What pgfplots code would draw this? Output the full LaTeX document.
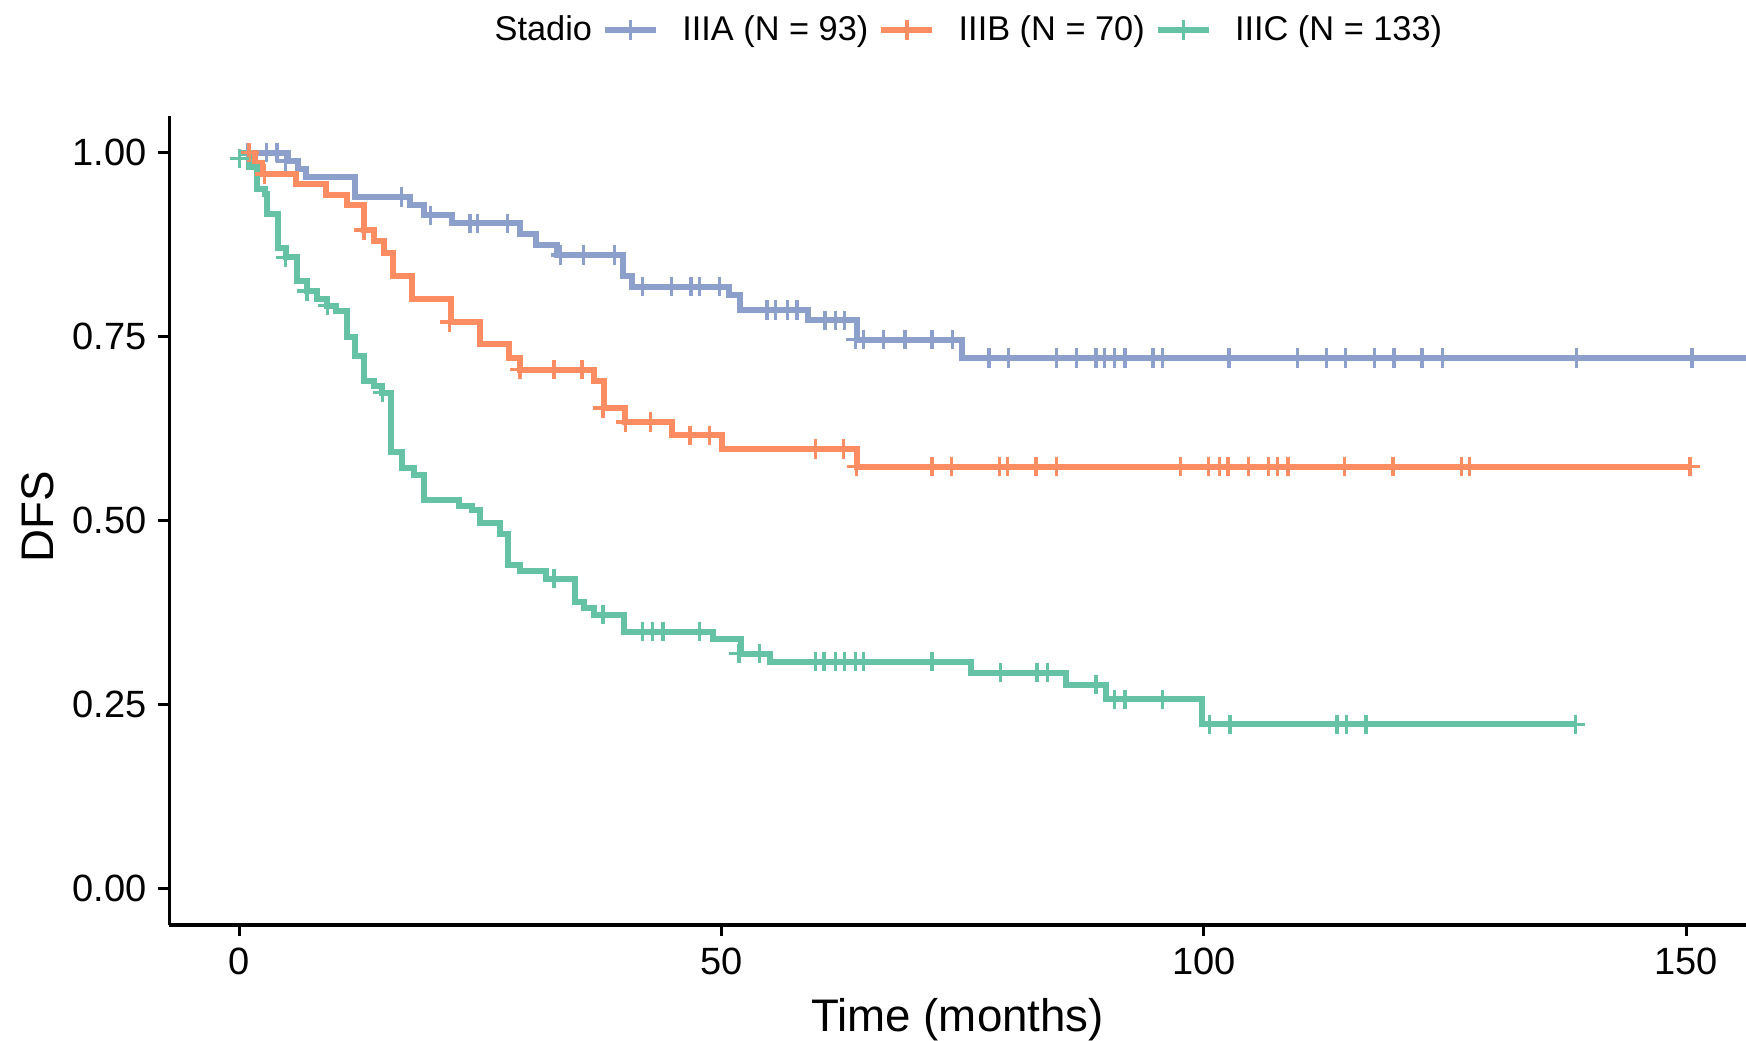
\documentclass[border=0pt]{standalone}
\usepackage{fontspec}
\setmainfont{Liberation Sans}
\usepackage{pgfplots}
\usepackage{pgfplotstable}
\pgfplotsset{compat=1.18}

\definecolor{cA}{HTML}{8DA0CB}
\definecolor{cB}{HTML}{FC8D62}
\definecolor{cC}{HTML}{66C2A5}

% Kaplan-Meier steps (time, survival after the event)
\pgfplotstableread{
t S
0 1.000
5.0 0.989
6.1 0.978
6.9 0.967
12.0 0.940
17.7 0.929
19.1 0.915
22.0 0.904
29.1 0.890
30.7 0.875
32.9 0.861
39.8 0.833
40.7 0.818
50.8 0.806
51.9 0.786
58.9 0.772
64.0 0.746
74.9 0.721
158.0 0.721
}\stepA
\pgfplotstableread{
t S
0.9 1.000
2.8 1.000
3.9 1.000
4.8 0.989
16.8 0.940
19.8 0.915
23.9 0.904
24.7 0.904
27.8 0.904
33.3 0.861
35.7 0.861
38.9 0.861
41.8 0.818
44.8 0.818
46.8 0.818
47.7 0.818
49.8 0.818
54.7 0.786
55.6 0.786
56.8 0.786
57.8 0.786
60.7 0.772
61.8 0.772
62.7 0.772
63.9 0.746
64.7 0.746
66.8 0.746
69.0 0.746
71.8 0.746
73.9 0.746
77.7 0.721
79.7 0.721
84.7 0.721
86.8 0.721
88.8 0.721
89.7 0.721
90.7 0.721
91.8 0.721
94.7 0.721
95.7 0.721
102.6 0.721
109.7 0.721
112.7 0.721
114.7 0.721
117.7 0.721
119.7 0.721
122.6 0.721
124.7 0.721
138.6 0.721
150.6 0.721
}\censA

\pgfplotstableread{
t S
0 1.000
1.6 0.986
2.3 0.971
5.9 0.957
9.0 0.943
11.1 0.929
12.9 0.895
13.9 0.880
15.0 0.864
15.9 0.832
17.9 0.801
21.9 0.770
24.9 0.740
27.9 0.721
29.1 0.705
36.8 0.690
37.8 0.653
40.0 0.634
44.8 0.616
50.0 0.597
64.0 0.573
150.4 0.573
}\stepB
\pgfplotstableread{
t S
1.0 1.000
2.6 0.971
12.9 0.895
21.8 0.770
29.1 0.705
32.6 0.705
35.5 0.705
37.7 0.653
40.0 0.634
42.6 0.634
46.7 0.616
48.7 0.616
59.7 0.597
62.6 0.597
64.0 0.573
71.8 0.573
73.8 0.573
78.8 0.573
79.6 0.573
82.6 0.573
84.7 0.573
97.6 0.573
100.5 0.573
101.6 0.573
102.5 0.573
104.6 0.573
106.7 0.573
107.6 0.573
108.7 0.573
114.6 0.573
119.6 0.573
126.7 0.573
127.5 0.573
150.4 0.573
}\censB

\pgfplotstableread{
t S
0 1.000
1.0 0.981
1.8 0.951
2.6 0.944
2.9 0.917
4.0 0.871
4.8 0.858
6.0 0.826
7.0 0.812
8.0 0.801
9.1 0.792
10.0 0.785
11.1 0.749
12.0 0.724
12.9 0.689
13.9 0.683
14.8 0.674
15.7 0.593
16.9 0.571
18.1 0.562
19.1 0.528
22.8 0.520
24.1 0.514
24.9 0.496
27.0 0.482
27.8 0.439
29.1 0.431
31.8 0.421
34.8 0.389
35.7 0.381
36.8 0.372
39.9 0.349
49.1 0.339
52.0 0.319
55.0 0.308
75.8 0.293
85.7 0.277
89.8 0.257
99.8 0.223
138.5 0.223
}\stepC
\pgfplotstableread{
t S
0.0 0.992
4.8 0.858
7.0 0.812
9.1 0.792
14.8 0.674
32.6 0.421
37.7 0.372
41.8 0.349
42.8 0.349
43.9 0.349
47.7 0.349
51.8 0.319
53.9 0.319
59.7 0.308
60.6 0.308
61.8 0.308
62.7 0.308
63.9 0.308
64.7 0.308
71.8 0.308
78.9 0.293
82.7 0.293
83.8 0.293
88.8 0.277
90.7 0.257
91.8 0.257
95.7 0.257
100.6 0.223
102.7 0.223
113.8 0.223
114.8 0.223
116.8 0.223
138.5 0.223
}\censC

\pgfplotsset{
  kmkey/.style={legend image code/.code={
    \draw[##1, line width=1.8pt] (0pt,0pt) -- (15.3pt,0pt);
    \draw[##1, line width=1pt] (7.65pt,-3pt) -- (7.65pt,3pt);
  }},
  kmline/.style={const plot, line width=1.8pt, forget plot},
  kmcens/.style={only marks, mark=+, mark size=2.9pt, mark options={line width=1pt}, forget plot},
}

\begin{document}
\begin{tikzpicture}
\useasboundingbox (-50.8pt,-34.8pt) rectangle (473pt,277.5pt);
\begin{axis}[
  at={(0,0)}, anchor=south west,
  scale only axis, width=473pt, height=242.7pt,
  xmin=-7.27, xmax=156.2, ymin=-0.05, ymax=1.05,
  axis x line*=bottom, axis y line*=left,
  axis line style={line width=1.05pt, black},
  xtick={0,50,100,150},
  ytick={0,0.25,0.5,0.75,1},
  tick align=outside, major tick length=3.3pt,
  every tick/.style={black, line width=0.9pt},
  /pgf/number format/assume math mode=true,
  yticklabel style={/pgf/number format/.cd, fixed, fixed zerofill, precision=2},
  xticklabel style={/pgf/number format/.cd, fixed, precision=0},
  tick label style={font=\fontsize{11.4}{13}\selectfont, text=black},
  xlabel={Time (months)},
  ylabel={DFS},
  label style={font=\fontsize{13.7}{16}\selectfont},
  xlabel style={at={(axis description cs:0.5,0)}, anchor=base, yshift=-32pt},
  ylabel style={at={(axis description cs:0,0.505)}, anchor=center, yshift=39.4pt},
  legend columns=4,
  legend style={draw=none, fill=none, at={(axis description cs:0.5015,1.106)}, anchor=center,
    font=\fontsize{10.3}{12}\selectfont,
    /tikz/every even column/.append style={column sep=1pt},
    /tikz/every odd column/.append style={column sep=5pt}},
  legend cell align=left,
]
\addlegendimage{empty legend}
\addlegendentry{Stadio}
\addlegendimage{kmkey, cA}
\addlegendentry{IIIA (N = 93)}
\addlegendimage{kmkey, cB}
\addlegendentry{IIIB (N = 70)}
\addlegendimage{kmkey, cC}
\addlegendentry{IIIC (N = 133)}

\addplot[kmline, cA] table {\stepA};
\addplot[kmcens, cA] table {\censA};
\addplot[kmline, cB] table {\stepB};
\addplot[kmcens, cB] table {\censB};
\addplot[kmline, cC] table {\stepC};
\addplot[kmcens, cC] table {\censC};
\end{axis}
\end{tikzpicture}
\end{document}
